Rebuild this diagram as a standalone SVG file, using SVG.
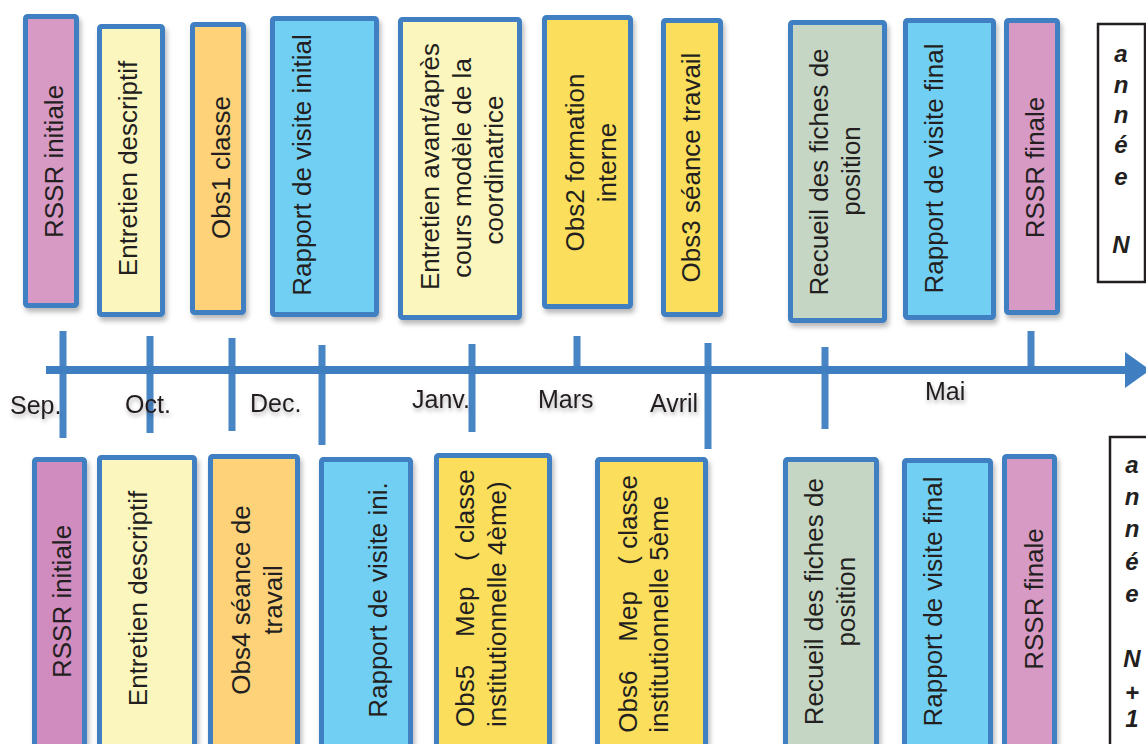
<svg xmlns="http://www.w3.org/2000/svg" width="1146" height="744" viewBox="0 0 1146 744">
<defs>
  <filter id="sh" x="-20%" y="-10%" width="140%" height="125%">
    <feDropShadow dx="2" dy="4" stdDeviation="2.5" flood-color="#000" flood-opacity="0.28"/>
  </filter>
  <filter id="tsh" x="-20%" y="-30%" width="140%" height="170%">
    <feDropShadow dx="1" dy="3" stdDeviation="2" flood-color="#000" flood-opacity="0.3"/>
  </filter>
  <marker id="arr" markerUnits="userSpaceOnUse" markerWidth="26" markerHeight="36" refX="0" refY="18" orient="auto">
    <path d="M0,0 L25,18 L0,36 Z" fill="#3f7fc1"/>
  </marker>
</defs>
<style>
  .box { stroke: #3f7fc1; stroke-width: 5; filter: url(#sh); }
  .pink { fill: #d79ac4; }
  .pink2 { fill: #d08bbf; }
  .ly { fill: #fbf6bd; }
  .or { fill: #fdd279; }
  .bl { fill: #72cff4; }
  .ye { fill: #fbdf5b; }
  .sg { fill: #c5d6c4; }
  .lbl { font-family: "Liberation Sans", Arial, sans-serif; font-size: 26px; fill: #231f20; text-anchor: middle; }
  .st { text-anchor: start; }
  .mon { font-family: "Liberation Sans", Arial, sans-serif; font-size: 25px; fill: #231f20; filter: url(#tsh); }
  .yr { font-family: "Liberation Sans", Arial, sans-serif; font-size: 24px; font-weight: bold; font-style: italic; fill: #231f20; text-anchor: middle; }
  .yb { fill: #fff; stroke: #231f20; stroke-width: 2.5; }
  .tick { stroke: #3f7fc1; stroke-width: 7; opacity: 0.95; }
  .axis { stroke: #3f7fc1; stroke-width: 8; fill: none; }
</style>

<g id="connectors">
  <line class="axis" x1="46" y1="370" x2="1125" y2="370" marker-end="url(#arr)"/>
  <line class="tick" x1="63" y1="331" x2="63" y2="438"/>
  <line class="tick" x1="150" y1="336" x2="150" y2="433"/>
  <line class="tick" x1="232" y1="338" x2="232" y2="431"/>
  <line class="tick" x1="322" y1="345" x2="322" y2="445"/>
  <line class="tick" x1="472" y1="344" x2="472" y2="432"/>
  <line class="tick" x1="577" y1="336" x2="577" y2="370"/>
  <line class="tick" x1="708" y1="343" x2="708" y2="449"/>
  <line class="tick" x1="825" y1="347" x2="825" y2="429"/>
  <line class="tick" x1="1031" y1="331" x2="1031" y2="370"/>
</g>

<g id="months">
  <text class="mon" x="10" y="414">Sep.</text>
  <text class="mon" x="125" y="413">Oct.</text>
  <text class="mon" x="250" y="412">Dec.</text>
  <text class="mon" x="412" y="408">Janv.</text>
  <text class="mon" x="538" y="408">Mars</text>
  <text class="mon" x="650" y="412">Avril</text>
  <text class="mon" x="925" y="400">Mai</text>
</g>

<!-- Top row: année N -->
<g id="t1"><rect class="box pink" x="25.5" y="16.5" width="51" height="289" rx="2"/>
  <text class="lbl" transform="translate(62.5,161.5) rotate(-90)">RSSR initiale</text></g>
<g id="t2"><rect class="box ly" x="99.5" y="26.5" width="63" height="288" rx="2"/>
  <text class="lbl" transform="translate(136.5,168.5) rotate(-90)">Entretien descriptif</text></g>
<g id="t3"><rect class="box or" x="192.5" y="24.5" width="51" height="288" rx="2"/>
  <text class="lbl" transform="translate(230,167.5) rotate(-90)">Obs1 classe</text></g>
<g id="t4"><rect class="box bl" x="272.5" y="18.5" width="104" height="296" rx="2"/>
  <text class="lbl" transform="translate(310.5,165) rotate(-90)">Rapport de visite initial</text></g>
<g id="t5"><rect class="box ly" x="400.5" y="19.5" width="119" height="298" rx="2"/>
  <text class="lbl" transform="translate(439,168) rotate(-90)"><tspan x="1.5" y="0">Entretien avant/après</tspan><tspan x="0" y="32">cours modèle de la</tspan><tspan x="-2" y="64">coordinatrice</tspan></text></g>
<g id="t6"><rect class="box ye" x="544.5" y="17.5" width="86" height="289" rx="2"/>
  <text class="lbl" transform="translate(584,162.5) rotate(-90)"><tspan x="0" y="0">Obs2 formation</tspan><tspan x="0" y="32">interne</tspan></text></g>
<g id="t7"><rect class="box ye" x="663.5" y="20.5" width="57" height="294" rx="2"/>
  <text class="lbl" transform="translate(700,167.5) rotate(-90)">Obs3 séance travail</text></g>
<g id="t8"><rect class="box sg" x="790.5" y="22.5" width="94" height="298" rx="2"/>
  <text class="lbl" transform="translate(828,172) rotate(-90)"><tspan x="0" y="0">Recueil des fiches de</tspan><tspan x="1" y="32">position</tspan></text></g>
<g id="t9"><rect class="box bl" x="905.5" y="20.5" width="88" height="297" rx="2"/>
  <text class="lbl" transform="translate(943,168.5) rotate(-90)">Rapport de visite final</text></g>
<g id="t10"><rect class="box pink" x="1006.5" y="20.5" width="51" height="292" rx="2"/>
  <text class="lbl" transform="translate(1044,167.5) rotate(-90)">RSSR finale</text></g>
<g id="yearN"><rect class="yb" x="1098" y="24" width="47" height="258"/>
  <text class="yr"><tspan x="1121" y="62">a</tspan><tspan x="1121" y="93">n</tspan><tspan x="1121" y="123">n</tspan><tspan x="1121" y="153">é</tspan><tspan x="1121" y="185">e</tspan><tspan x="1121" y="253">N</tspan></text></g>

<!-- Bottom row: année N+1 -->
<g id="b1"><rect class="box pink2" x="34.5" y="459.5" width="50" height="300" rx="2"/>
  <text class="lbl" transform="translate(70.5,601.5) rotate(-90)">RSSR initiale</text></g>
<g id="b2"><rect class="box ly" x="99.5" y="457.5" width="95" height="300" rx="2"/>
  <text class="lbl" transform="translate(147,598.5) rotate(-90)">Entretien descriptif</text></g>
<g id="b3"><rect class="box or" x="210.5" y="456.5" width="87" height="300" rx="2"/>
  <text class="lbl" transform="translate(250,600) rotate(-90)"><tspan x="0" y="0">Obs4 séance de</tspan><tspan x="0" y="32">travail</tspan></text></g>
<g id="b4"><rect class="box bl" x="321.5" y="459.5" width="89" height="300" rx="2"/>
  <text class="lbl" transform="translate(387,600) rotate(-90)">Rapport de visite ini.</text></g>
<g id="b5"><rect class="box ye" x="436.5" y="455.5" width="113" height="300" rx="2"/>
  <text class="lbl st" transform="translate(474,727) rotate(-90)"><tspan x="0" y="0">Obs5 </tspan><tspan x="90" y="0">Mep </tspan><tspan x="166" y="0">(</tspan><tspan x="184" y="0">classe</tspan><tspan x="0" y="32">institutionnelle 4ème)</tspan></text></g>
<g id="b6"><rect class="box ye" x="597.5" y="459.5" width="108" height="300" rx="2"/>
  <text class="lbl st" transform="translate(637,732.7) rotate(-90)"><tspan x="0" y="0">Obs6 </tspan><tspan x="91" y="0">Mep </tspan><tspan x="168" y="0">(</tspan><tspan x="184" y="0">classe</tspan><tspan x="0" y="31">institutionnelle 5ème</tspan></text></g>
<g id="b7"><rect class="box sg" x="785.5" y="459.5" width="91" height="300" rx="2"/>
  <text class="lbl" transform="translate(823,601.7) rotate(-90)"><tspan x="0" y="0">Recueil des fiches de</tspan><tspan x="0" y="32">position</tspan></text></g>
<g id="b8"><rect class="box bl" x="904.5" y="460.5" width="86" height="300" rx="2"/>
  <text class="lbl" transform="translate(941.7,601.5) rotate(-90)">Rapport de visite final</text></g>
<g id="b9"><rect class="box pink" x="1004.5" y="456.5" width="50" height="300" rx="2"/>
  <text class="lbl" transform="translate(1042.5,599) rotate(-90)">RSSR finale</text></g>
<g id="yearN1"><rect class="yb" x="1110" y="437" width="45" height="330"/>
  <text class="yr"><tspan x="1132" y="473">a</tspan><tspan x="1132" y="505">n</tspan><tspan x="1132" y="537">n</tspan><tspan x="1132" y="570">é</tspan><tspan x="1132" y="602">e</tspan><tspan x="1132" y="667">N</tspan><tspan x="1132" y="701">+</tspan><tspan x="1132" y="727">1</tspan></text></g>
</svg>
